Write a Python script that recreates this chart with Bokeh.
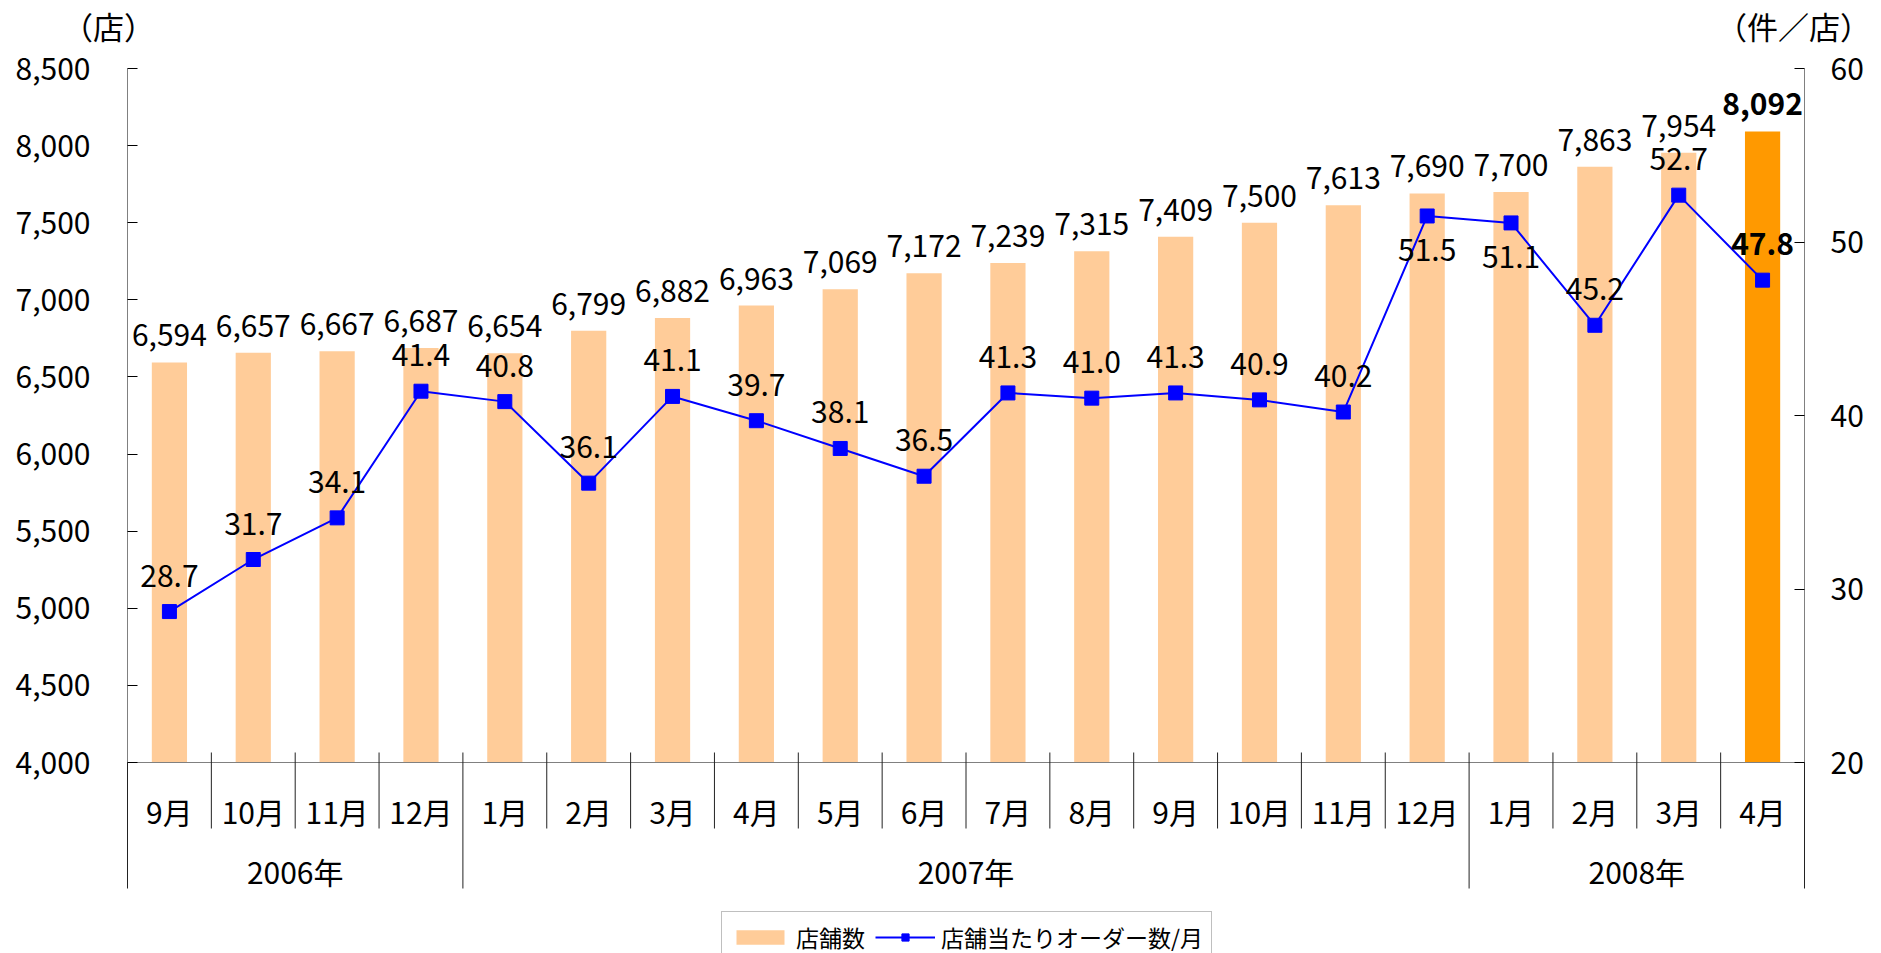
from bokeh.plotting import figure
from bokeh.models import (Range1d, LinearAxis, FixedTicker, NumeralTickFormatter,
                          Label, Legend, LegendItem, ColumnDataSource)
from bokeh.core.properties import value
from bokeh.embed import file_html
from bokeh.resources import INLINE

# ---------------- data ----------------
months = ["9月", "10月", "11月", "12月",
          "1月", "2月", "3月", "4月", "5月", "6月", "7月", "8月", "9月", "10月", "11月", "12月",
          "1月", "2月", "3月", "4月"]
years = ["2006年", "2007年", "2008年"]
year_counts = [4, 12, 4]
stores = [6594, 6657, 6667, 6687, 6654, 6799, 6882, 6963, 7069, 7172,
          7239, 7315, 7409, 7500, 7613, 7690, 7700, 7863, 7954, 8092]
orders = [28.7, 31.7, 34.1, 41.4, 40.8, 36.1, 41.1, 39.7, 38.1, 36.5,
          41.3, 41.0, 41.3, 40.9, 40.2, 51.5, 51.1, 45.2, 52.7, 47.8]
left_ticks = [4000, 4500, 5000, 5500, 6000, 6500, 7000, 7500, 8000, 8500]
right_ticks = [20, 30, 40, 50, 60]
series_names = ["店舗数", "店舗当たりオーダー数/月"]
unit_left = "（店）"
unit_right = "（件／店）"
labels_below = [15, 16]   # order labels placed under their marker

# ---------------- layout constants (canvas pixels) ----------------
W, H = 1881, 953
AX_L, AX_R = 127, 1804      # pixel columns of the left / right value axes
PX_TOP, PX_BOT = 68, 762    # pixel rows of the axis top / bottom values
FONT = "Noto Sans CJK JP"
LMIN, LMAX = left_ticks[0], left_ticks[-1]
RMIN, RMAX = right_ticks[0], right_ticks[-1]


def yl(px):  # canvas pixel row -> left axis value
    return LMIN + (PX_BOT - px) * (LMAX - LMIN) / (PX_BOT - PX_TOP)


def yr(px):  # canvas pixel row -> right axis value
    return RMIN + (PX_BOT - px) * (RMAX - RMIN) / (PX_BOT - PX_TOP)


n = len(stores)
xs = [i + 0.5 for i in range(n)]
px_per_cat = (AX_R - AX_L) / n


def xd(px):  # canvas pixel column -> x data
    return (px - AX_L) / px_per_cat


p = figure(width=W, height=H, x_range=Range1d(xd(0), xd(W)), y_range=Range1d(yl(H), yl(0)),
           output_backend="svg", toolbar_location=None,
           x_axis_location=None, y_axis_location=None,
           min_border_left=0, min_border_right=0, min_border_top=0, min_border_bottom=0)
p.extra_y_ranges = {"r": Range1d(yr(H), yr(0))}
p.outline_line_color = None
p.xgrid.visible = False
p.ygrid.visible = False
p.background_fill_color = "white"
p.border_fill_color = "white"

common_axis = dict(major_tick_in=10, major_tick_out=0, minor_tick_in=0, minor_tick_out=0,
                   axis_line_color="#808080", major_tick_line_color="black",
                   major_label_text_font_size="30px", major_label_text_font=FONT,
                   major_label_text_color="black", major_label_standoff=37)
left_axis = LinearAxis(bounds=(LMIN, LMAX), ticker=FixedTicker(ticks=left_ticks),
                       formatter=NumeralTickFormatter(format="0,0"),
                       fixed_location=0, **common_axis)
p.add_layout(left_axis, "left")
common_axis["major_label_standoff"] = 26
right_axis = LinearAxis(y_range_name="r", bounds=(RMIN, RMAX), ticker=FixedTicker(ticks=right_ticks),
                        fixed_location=n, **common_axis)
p.add_layout(right_axis, "right")

# ---------------- bars ----------------
bar_colors = ["#FF9900" if i == n - 1 else "#FFCC99" for i in range(n)]
styles = ["bold" if i == n - 1 else "normal" for i in range(n)]
bsrc = ColumnDataSource(dict(x=xs, top=stores, color=bar_colors, style=styles,
                             lab=[f"{v:,}" for v in stores]))
bars = p.vbar(x="x", top="top", bottom=LMIN, width=0.42, fill_color="color",
              line_color=None, source=bsrc)
p.text(x="x", y="top", text="lab", y_offset=-27, text_align="center", text_baseline="middle",
       text_font_size="30px", text_font=value(FONT), text_font_style="style",
       text_color="black", source=bsrc)

# ---------------- line ----------------
lsrc = ColumnDataSource(dict(x=xs, y=orders, style=styles,
                             lab=[f"{v:.1f}" for v in orders],
                             off=[34 if i in labels_below else -36 for i in range(n)]))
line = p.line(x="x", y="y", y_range_name="r", line_color="#0000FF", line_width=2, source=lsrc)
marks = p.scatter(x="x", y="y", y_range_name="r", marker="square", size=14,
                  fill_color="#0000FF", line_color="#0000FF", source=lsrc)
p.text(x="x", y="y", text="lab", y_offset="off", y_range_name="r", text_align="center",
       text_baseline="middle", text_font_size="30px", text_font=value(FONT),
       text_font_style="style", text_color="black", source=lsrc)

# ---------------- category axis (months / years) ----------------
p.segment(x0=[0], x1=[n], y0=[LMIN], y1=[LMIN], line_color="#808080", line_width=1)
bounds_idx = [0]
for c in year_counts:
    bounds_idx.append(bounds_idx[-1] + c)
month_sep = [i for i in range(n + 1) if i not in bounds_idx]
p.segment(x0=month_sep, x1=month_sep, y0=[yl(752)] * len(month_sep), y1=[yl(828)] * len(month_sep),
          line_color="#222222", line_width=1)
p.segment(x0=bounds_idx, x1=bounds_idx, y0=[yl(752)] * len(bounds_idx), y1=[yl(888)] * len(bounds_idx),
          line_color="#222222", line_width=1)
p.text(x=xs, y=[yl(810)] * n, text=months, text_align="center", text_baseline="middle",
       text_font_size="30px", text_font=value(FONT), text_color="black")
ycent = [(bounds_idx[i] + bounds_idx[i + 1]) / 2 for i in range(len(years))]
p.text(x=ycent, y=[yl(870)] * len(years), text=years, text_align="center", text_baseline="middle",
       text_font_size="30px", text_font=value(FONT), text_color="black")

# ---------------- unit labels ----------------
p.add_layout(Label(x=xd(108), y=yl(25), text=unit_left, text_align="center", text_baseline="middle",
                   text_font_size="31px", text_font=FONT, text_color="black"))
p.add_layout(Label(x=xd(1793), y=yl(25), text=unit_right, text_align="center", text_baseline="middle",
                   text_font_size="31px", text_font=FONT, text_color="black"))

# ---------------- legend ----------------
legend = Legend(items=[LegendItem(label=series_names[0], renderers=[bars], index=0),
                       LegendItem(label=series_names[1], renderers=[line, marks])],
                orientation="horizontal", location=(721, -10), padding=8, spacing=10, margin=0,
                label_standoff=6, glyph_width=60, glyph_height=18,
                label_text_font_size="23px", label_text_font=FONT, label_text_color="black",
                border_line_color="#808080", border_line_width=1, background_fill_alpha=1.0)
p.add_layout(legend, "center")

open("out.html", "w").write(file_html(p, INLINE))
